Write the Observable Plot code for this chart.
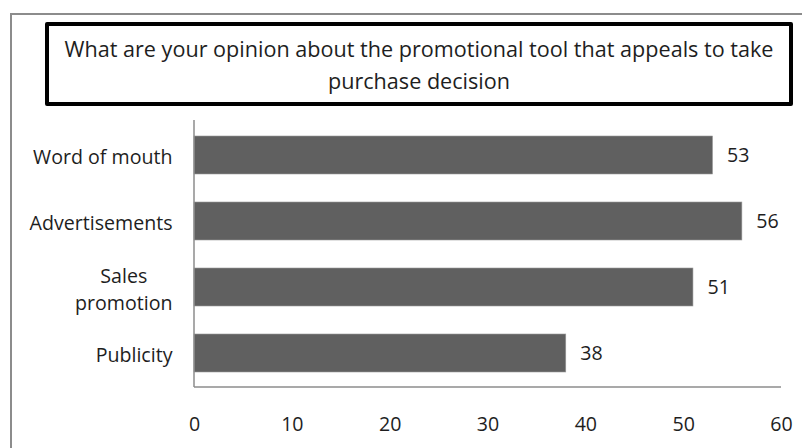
<!DOCTYPE html>
<html><head><meta charset="utf-8">
<script src="https://cdn.jsdelivr.net/npm/d3@7"></script>
<script src="https://cdn.jsdelivr.net/npm/@observablehq/plot@0.6"></script>
<style>
body{margin:0;background:#fff;}
#wrap{position:relative;width:802px;height:448px;overflow:hidden;font-family:"Open Sans",sans-serif;}
#outer{position:absolute;left:10px;top:13px;width:900px;height:600px;border:2px solid #8c8c8c;box-sizing:border-box;}
#title{position:absolute;left:45px;top:22px;width:748px;height:84px;border:4px solid #000;box-sizing:border-box;border-radius:2px;display:flex;align-items:center;justify-content:center;text-align:center;font-size:21.6px;line-height:32px;color:#1e1e1e;background:#fff;padding-top:2px;}
#chart{position:absolute;left:0;top:0;}
</style></head>
<body>
<div id="wrap">
  <div id="outer"></div>
  <div id="chart"></div>
  <div id="title">What are your opinion about the promotional tool that appeals to take<br>purchase decision</div>
</div>
<script>
const categories = ["Word of mouth", "Advertisements", "Sales promotion", "Publicity"];
const values = [53, 56, 51, 38];
const xTicks = [0, 10, 20, 30, 40, 50, 60];
const data = categories.map((c, i) => ({category: c, value: values[i]}));

const axisLines = (index, scales, values, dims) => {
  const g = document.createElementNS("http://www.w3.org/2000/svg", "g");
  const x0 = dims.marginLeft, x1 = dims.width - dims.marginRight;
  const y0 = dims.marginTop, y1 = dims.height - dims.marginBottom;
  g.innerHTML = `<line x1="${x0}" x2="${x0}" y1="${y0}" y2="${y1}" stroke="#8c8c8c" stroke-width="1.5"/>` +
                `<line x1="${x0}" x2="${x1}" y1="${y1}" y2="${y1}" stroke="#8c8c8c" stroke-width="1.5"/>`;
  return g;
};

const FS = 19.6;
const chart = Plot.plot({
  width: 802,
  height: 448,
  marginLeft: 194,
  marginRight: 21,
  marginTop: 120,
  marginBottom: 61,
  style: {fontFamily: "'Open Sans', sans-serif", fontSize: FS + "px", background: "transparent", color: "#1e1e1e"},
  x: {domain: [0, 60]},
  y: {domain: categories, paddingInner: 0.43, paddingOuter: 0.215},
  marks: [
    Plot.barX(data, {x: "value", y: "category", fill: "#606060", stroke: "#9a9a9a", strokeWidth: 0.6}),
    Plot.text(data, {x: "value", y: "category", text: d => String(d.value), dx: 14, textAnchor: "start", fontSize: FS, fill: "#1e1e1e"}),
    axisLines,
    Plot.axisX({ticks: xTicks, tickSize: 0, tickPadding: 30, fontSize: FS, label: null}),
    Plot.axisY({tickSize: 0, tickPadding: 22, fontSize: FS, lineHeight: 1.38, label: null,
      tickFormat: d => d === "Sales promotion" ? "Sales\npromotion" : d})
  ]
});
document.getElementById("chart").appendChild(chart);

// center each line of multi-line y tick labels within the right-aligned block
chart.querySelectorAll("text").forEach(t => {
  const spans = t.querySelectorAll("tspan");
  if (spans.length > 1) {
    const widths = Array.from(spans, s => s.getComputedTextLength());
    const maxW = Math.max(...widths);
    spans.forEach((s, i) => s.setAttribute("x", -(maxW - widths[i]) / 2));
  }
});
</script>
</body></html>
